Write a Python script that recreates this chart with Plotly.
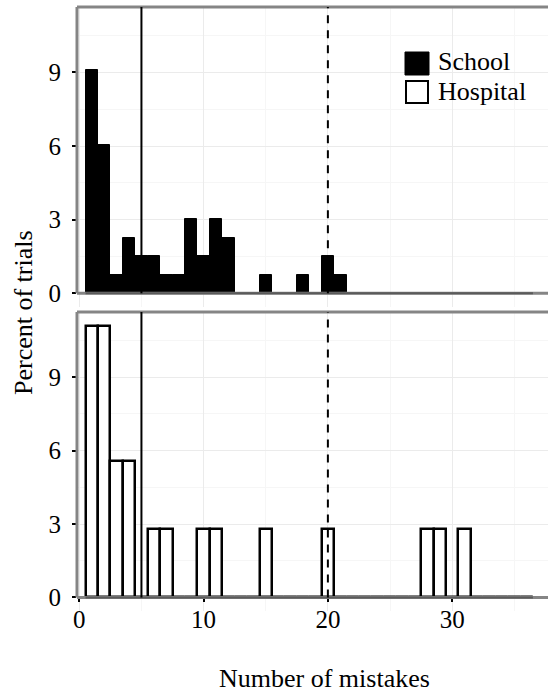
import plotly.graph_objects as go

# ---------------- data ----------------
mistakes = list(range(1, 37))
school_pct = [9.09, 6.06, 0.76, 2.27, 1.52, 1.52, 0.76, 0.76, 3.03, 1.52,
              3.03, 2.27, 0, 0, 0.76, 0, 0, 0.76, 0, 1.52,
              0.76, 0, 0, 0, 0, 0, 0, 0, 0, 0,
              0, 0, 0, 0, 0, 0]
hospital_pct = [11.11, 11.11, 5.56, 5.56, 0, 2.78, 2.78, 0, 0, 2.78,
                2.78, 0, 0, 0, 2.78, 0, 0, 0, 0, 2.78,
                0, 0, 0, 0, 0, 0, 0, 2.78, 2.78, 0,
                2.78, 0, 0, 0, 0, 0]
x_ticks = [0, 10, 20, 30]
y_ticks = [0, 3, 6, 9]
ref_solid = 5
ref_dashed = 20
legend_labels = ["School", "Hospital"]
x_title = "Number of mistakes"
y_title = "Percent of trials"

# ---------------- layout geometry ----------------
W, H = 548, 693
ML, MR, MT, MB = 77, 0, 7, 82
PW, PH = W - ML - MR, H - MT - MB
XR = [-0.185, 37.71]
YR = [-0.556, 11.667]
top_dom = [(PH - 300) / PH, 1.0]
bot_dom = [0.0, 299 / PH]

FONT = "Liberation Serif, Times New Roman, serif"
TICKFONT = dict(family=FONT, size=25, color="black")
BORDER = "#858585"


def ypaper(val, dom):
    return dom[0] + (dom[1] - dom[0]) * (val - YR[0]) / (YR[1] - YR[0])


def px_x(p):
    return (p - ML) / PW


def px_y(p):
    return (H - MB - p) / PH


fig = go.Figure()
fig.add_trace(go.Bar(x=mistakes, y=school_pct, width=1, xaxis="x", yaxis="y",
                     marker=dict(color="black", line=dict(color="black", width=1)),
                     showlegend=False, name=legend_labels[0]))
fig.add_trace(go.Bar(x=mistakes, y=hospital_pct, width=1, xaxis="x2", yaxis="y2",
                     marker=dict(color="white", line=dict(color="black", width=2.5)),
                     showlegend=False, name=legend_labels[1]))
# dummy trace for the tick axis
fig.add_trace(go.Scatter(x=[None], y=[None], xaxis="x3", yaxis="y2",
                         showlegend=False, hoverinfo="skip"))

grid = dict(showgrid=True, gridcolor="#ebebeb", gridwidth=1, zeroline=False,
            showline=False)
xcommon = dict(range=XR, tickvals=x_ticks, showticklabels=False, ticks="",
               minor=dict(dtick=5, tick0=0, showgrid=True, gridcolor="#f6f6f6", gridwidth=1),
               **grid)
ycommon = dict(range=YR, tickvals=y_ticks, ticks="outside", ticklen=4, tickwidth=1.5,
               tickcolor="black", tickfont=TICKFONT, ticklabelstandoff=6,
               minor=dict(dtick=1.5, tick0=0, showgrid=True, gridcolor="#f6f6f6", gridwidth=1),
               **grid)

zero_pos = ypaper(0, bot_dom)

fig.update_layout(
    width=W, height=H,
    margin=dict(l=ML, r=MR, t=MT, b=MB, autoexpand=False),
    paper_bgcolor="white", plot_bgcolor="white",
    barmode="overlay", bargap=0,
    xaxis=dict(domain=[0, 1], anchor="y", **xcommon),
    yaxis=dict(domain=top_dom, anchor="x", **ycommon),
    xaxis2=dict(domain=[0, 1], anchor="y2", **xcommon),
    yaxis2=dict(domain=bot_dom, anchor="x2", **ycommon),
    xaxis3=dict(domain=[0, 1], overlaying="x2", anchor="free", position=zero_pos,
                range=XR, tickvals=x_ticks, showgrid=False, zeroline=False,
                showline=False, ticks="outside", ticklen=4, tickwidth=1.5,
                tickcolor="black", tickfont=TICKFONT, ticklabelstandoff=-4),
    font=dict(family=FONT, color="black"),
)

shapes = []
for xa, dom in (("x", top_dom), ("x2", bot_dom)):
    y0p = ypaper(0, dom)
    # panel frame: left, top, bottom (at y = 0)
    shapes.append(dict(type="line", xref="paper", yref="paper", x0=0, x1=0,
                       y0=y0p, y1=dom[1], line=dict(color=BORDER, width=3), layer="above"))
    shapes.append(dict(type="line", xref="paper", yref="paper", x0=0, x1=1,
                       y0=dom[1], y1=dom[1], line=dict(color=BORDER, width=3), layer="above"))
    shapes.append(dict(type="line", xref="paper", yref="paper", x0=0, x1=1,
                       y0=y0p, y1=y0p, line=dict(color=BORDER, width=3), layer="above"))
    # zero-height bins baseline
    shapes.append(dict(type="line", xref=xa, yref="paper", x0=mistakes[0] - 0.5,
                       x1=mistakes[-1] + 0.5, y0=y0p, y1=y0p,
                       line=dict(color="#5a5a5a", width=2), layer="above"))
    # reference lines
    shapes.append(dict(type="line", xref=xa, yref="paper", x0=ref_solid, x1=ref_solid,
                       y0=y0p, y1=dom[1], line=dict(color="black", width=2), layer="above"))
    shapes.append(dict(type="line", xref=xa, yref="paper", x0=ref_dashed, x1=ref_dashed,
                       y0=y0p, y1=dom[1], line=dict(color="black", width=2, dash="8px,7px"),
                       layer="above"))

# legend keys
shapes.append(dict(type="rect", xref="paper", yref="paper",
                   x0=px_x(405), x1=px_x(429), y0=px_y(75), y1=px_y(52),
                   fillcolor="black", line=dict(color="black", width=1), layer="above"))
shapes.append(dict(type="rect", xref="paper", yref="paper",
                   x0=px_x(406), x1=px_x(428), y0=px_y(103), y1=px_y(81),
                   fillcolor="white", line=dict(color="black", width=2), layer="above"))
fig.update_layout(shapes=shapes)

annotations = [
    dict(text=legend_labels[0], xref="paper", yref="paper", x=px_x(436), y=px_y(62),
         xanchor="left", yanchor="middle", showarrow=False,
         font=dict(family=FONT, size=26, color="black")),
    dict(text=legend_labels[1], xref="paper", yref="paper", x=px_x(436), y=px_y(91),
         xanchor="left", yanchor="middle", showarrow=False,
         font=dict(family=FONT, size=26, color="black")),
    dict(text=x_title, xref="paper", yref="paper", x=px_x(324), y=px_y(678),
         xanchor="center", yanchor="middle", showarrow=False,
         font=dict(family=FONT, size=26, color="black")),
    dict(text=y_title, xref="paper", yref="paper", x=px_x(23), y=px_y(313),
         xanchor="center", yanchor="middle", showarrow=False, textangle=-90,
         font=dict(family=FONT, size=26, color="black")),
]
fig.update_layout(annotations=annotations)

fig.write_html("out.html", config={"displayModeBar": False},
               post_script="document.body.style.margin='0';document.body.style.padding='0';")
